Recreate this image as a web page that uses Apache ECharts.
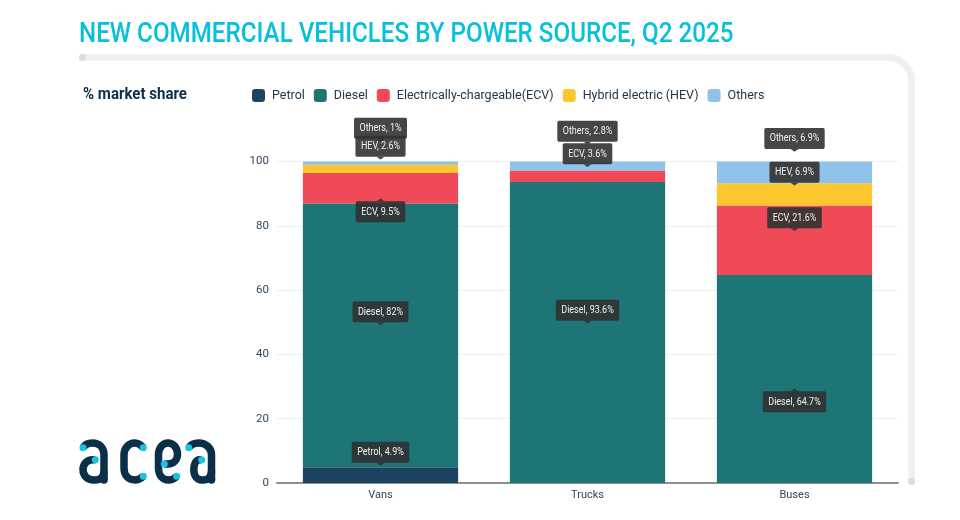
<!DOCTYPE html>
<html>
<head>
<meta charset="utf-8">
<style>
  html, body { margin: 0; padding: 0; background: #fff; }
  #chart { width: 960px; height: 520px; }
</style>
<script src="https://cdn.jsdelivr.net/npm/echarts@6/dist/echarts.min.js"></script>
</head>
<body>
<div id="chart"></div>
<script>
// data
const categories = ["Vans", "Trucks", "Buses"];
const petrol = [4.9, 0, 0];
const diesel = [82, 93.6, 64.7];
const ecv = [9.5, 3.6, 21.6];
const hev = [2.6, 0, 6.9];
const others = [1, 2.8, 6.9];
const seriesNames = ["Petrol", "Diesel", "Electrically-chargeable(ECV)", "Hybrid electric (HEV)", "Others"];
const seriesColors = ["#1c4460", "#1d7575", "#f04a58", "#fcc72e", "#8fc3e9"];

// callouts: drawn in this order, the tip is where the arrow points on the value axis
const calloutCats = ["Vans", "Vans", "Vans", "Vans", "Vans", "Trucks", "Trucks", "Trucks", "Buses", "Buses", "Buses", "Buses"];
const calloutTexts = ["Others, 1%", "HEV, 2.6%", "ECV, 9.5%", "Diesel, 82%", "Petrol, 4.9%", "Others, 2.8%", "ECV, 3.6%", "Diesel, 93.6%", "Others, 6.9%", "HEV, 6.9%", "ECV, 21.6%", "Diesel, 64.7%"];
const calloutTips = [106.2, 100.6, 88.5, 49.1, 5.4, 105.3, 98.3, 49.6, 103, 92.5, 78.4, 29.4];
const calloutUp = [0, 0, 1, 0, 0, 0, 0, 0, 0, 0, 0, 1];

const FONT = "Roboto, sans-serif";
const NAVY = "#0b2f48";
const CYAN = "#17c4e3";

const chart = echarts.init(document.getElementById("chart"), null, { renderer: "canvas" });

function renderCallout(params, api) {
  const i = params.dataIndex;
  const tip = api.coord([api.value(0), api.value(1)]);
  const up = calloutUp[i] === 1;
  const fill = "rgba(50,50,50,0.9)";
  const h = 2.8; // arrow height
  const arrow = up
    ? [[tip[0] - 4, tip[1] + h], [tip[0], tip[1]], [tip[0] + 4, tip[1] + h]]
    : [[tip[0] - 4, tip[1] - h], [tip[0], tip[1]], [tip[0] + 4, tip[1] - h]];
  return {
    type: "group",
    children: [
      { type: "polygon", shape: { points: arrow }, style: { fill: fill } },
      {
        type: "text",
        x: tip[0],
        y: up ? tip[1] + h : tip[1] - h,
        scaleX: 0.78, // reference font is condensed
        style: {
          text: calloutTexts[i],
          align: "center",
          verticalAlign: up ? "top" : "bottom",
          fill: "#f2f2f2",
          font: "11.5px " + FONT,
          backgroundColor: fill,
          padding: [4.5, 7, 4.5, 7],
          borderRadius: 2
        }
      }
    ]
  };
}

// frame line and logo strokes are decoration, not data
const frameGrey = "#f0f0f0";
const dotGrey = "#dcdcdc";
const framePath = "M82.5 57.5H888C901 57.5 911.5 68 911.5 81V481.5";
const logoPaths = [
  "M83 447.7C85 444.5 88.5 443 92.5 443C99.5 443 104 448 104 455V480",
  "M95.3 459.7H92.5C87 459.7 83 464 83 469.5C83 476 88 480 93.5 480H95C100.5 480 104 476.5 104 471",
  "M143.3 447.7C141 445 138 443 135 443C128 443 124 449 124 455V468C124 475 128 480 135 480C138 480 141 478.5 143.3 476.3",
  "M164.3 464H168C173.5 464 177.5 460 177.5 454C177.5 448 173.5 443 168 443C162.5 443 158.5 448 158.5 455V468C158.5 475 162.5 480 168.5 480C172 480 174.5 478.5 176.7 476.3",
  "M188.7 447.7C191 444.5 194.5 443 198.5 443C206 443 211.5 448 211.5 455V480",
  "M201.7 459.7H199.5C196 459.7 193.8 464 193.8 469.5C193.8 476 197 480 202 480H203C208 480 211.5 476.5 211.5 471"
];
const logoDots = [[83, 447.7], [95.3, 459.7], [143.3, 447.7], [143.3, 476.3], [164.3, 464], [176.7, 476.3], [188.7, 447.7], [201.7, 459.7]];
const logoFeet = [[104, 480], [211.5, 480]];

// the graphic component has no path element, so these go through a custom series
function renderDecor() {
  const children = [
    { type: "path", shape: { pathData: framePath }, style: { fill: "none", stroke: frameGrey, lineWidth: 7 } },
    { type: "circle", shape: { cx: 82.5, cy: 57.5, r: 3.6 }, style: { fill: dotGrey } },
    { type: "circle", shape: { cx: 911.5, cy: 481.5, r: 3.6 }, style: { fill: dotGrey } }
  ];
  logoPaths.forEach((d) => {
    children.push({ type: "path", shape: { pathData: d }, style: { fill: "none", stroke: NAVY, lineWidth: 7.5 } });
  });
  logoFeet.forEach((p) => {
    children.push({ type: "circle", shape: { cx: p[0], cy: p[1], r: 3.75 }, style: { fill: NAVY } });
  });
  logoDots.forEach((p) => {
    children.push({ type: "circle", shape: { cx: p[0], cy: p[1], r: 3.5 }, style: { fill: CYAN } });
  });
  return { type: "group", children: children };
}

const graphics = [
  {
    type: "text",
    x: 79,
    y: 35.5,
    scaleX: 0.87,
    style: {
      text: "NEW COMMERCIAL VEHICLES BY POWER SOURCE, Q2 2025",
      fill: "#07c0dc",
      font: "500 27.8px Roboto, sans-serif",
      verticalAlign: "middle"
    }
  },
  {
    type: "text",
    x: 83,
    y: 94.5,
    scaleX: 0.94,
    style: {
      text: "% market share",
      fill: NAVY,
      font: "bold 16px " + FONT,
      verticalAlign: "middle"
    }
  }
];

const values = [petrol, diesel, ecv, hev, others];

chart.setOption({
  animation: false,
  graphic: graphics,
  legend: {
    data: seriesNames,
    left: 252,
    top: 89,
    padding: 0,
    itemWidth: 13,
    itemHeight: 13,
    itemGap: 9,
    icon: "roundRect",
    textStyle: { color: "#22384a", fontSize: 12.5, fontFamily: FONT, padding: [0, 0, 0, 2] }
  },
  grid: { left: 277, right: 62, top: 161.5, bottom: 37 },
  xAxis: {
    type: "category",
    data: categories,
    axisTick: { show: false },
    axisLine: { lineStyle: { color: "#8f8f8f", width: 2 } },
    axisLabel: { color: "#33475a", fontSize: 11, fontFamily: FONT, margin: 7 }
  },
  yAxis: {
    type: "value",
    min: 0,
    max: 100,
    interval: 20,
    axisLine: { show: false },
    axisTick: { show: false },
    axisLabel: { color: "#33475a", fontSize: 11.5, fontFamily: FONT, margin: 8 },
    splitLine: { lineStyle: { color: "#eceef1", width: 1 } }
  },
  series: seriesNames.map((name, k) => ({
    type: "bar",
    name: name,
    stack: "share",
    barCategoryGap: "25%",
    data: values[k],
    itemStyle: { color: seriesColors[k] }
  })).concat([{
    type: "custom",
    name: "callouts",
    renderItem: renderCallout,
    data: calloutCats.map((c, i) => [c, calloutTips[i]]),
    encode: { x: 0, y: 1 },
    z: 5,
    clip: false,
    silent: true
  }, {
    type: "custom",
    name: "decor",
    coordinateSystem: "none",
    renderItem: renderDecor,
    data: [0],
    z: 0,
    silent: true
  }])
});
</script>
</body>
</html>
